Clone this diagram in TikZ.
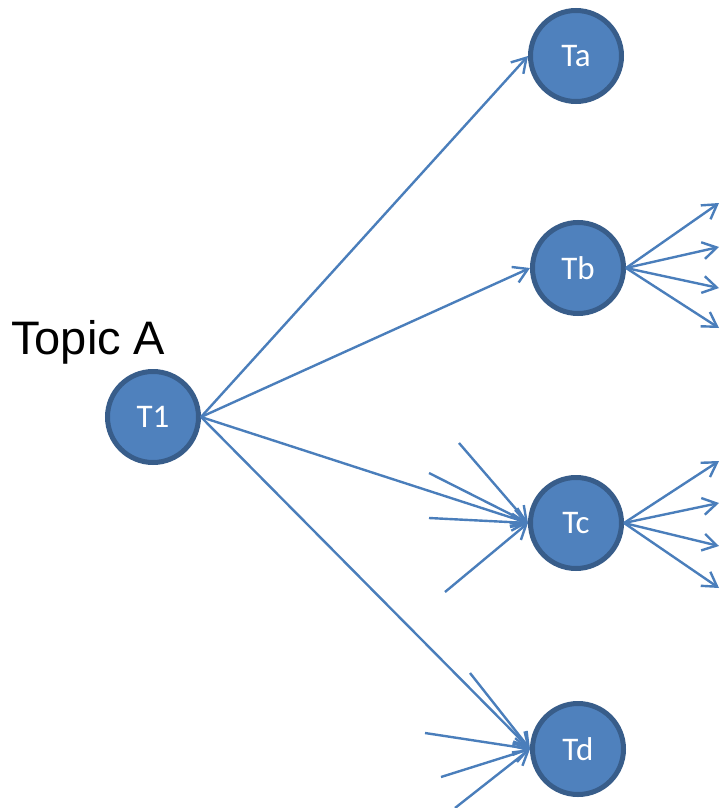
\documentclass[tikz,border=0pt]{standalone}
\usepackage{fontspec}
\setmainfont{Liberation Sans}
\newfontfamily\labelfont{Carlito}
\usetikzlibrary{arrows.meta}
\definecolor{nodefill}{HTML}{4F81BD}
\definecolor{nodeedge}{HTML}{385D8A}
\definecolor{linkblue}{HTML}{4A7EBB}
\begin{document}
\begin{tikzpicture}[x=1pt,y=-1pt,
  topic/.style={circle, fill=nodefill, draw=nodeedge, line width=5pt,
    minimum size=91pt, inner sep=0pt, text=white,
    font=\labelfont\fontsize{33}{40}\selectfont},
  link/.style={draw=linkblue, line width=2.4pt,
    -{Straight Barb[length=14pt,width=17pt]}}]
\useasboundingbox (0,0) rectangle (720,808);

% topic nodes
\node[topic] (T1) at (153,417) {T1};
\node[topic] (Ta) at (576,56) {Ta};
\node[topic] (Tb) at (578,268) {Tb};
\node[topic] (Tc) at (576,523) {Tc};
\node[topic] (Td) at (578,749) {Td};
\node[anchor=base west, inner sep=0pt, font=\fontsize{47}{56}\selectfont]
  (title) at (11,354) {Topic A};

% free ends of the loose connectors
\coordinate (b1) at (719,203);
\coordinate (b2) at (719,247);
\coordinate (b3) at (719,288);
\coordinate (b4) at (719,328);
\coordinate (c1) at (719,461);
\coordinate (c2) at (719,503);
\coordinate (c3) at (719,546);
\coordinate (c4) at (719,588);
\coordinate (ci1) at (459,443);
\coordinate (ci2) at (429,473);
\coordinate (ci3) at (429,518);
\coordinate (ci4) at (445,592);
\coordinate (di1) at (470,673);
\coordinate (di2) at (425,733);
\coordinate (di3) at (441,777);
\coordinate (di4) at (455,808);

% T1 fans out to the four subtopics
\foreach \t in {Ta,Tb,Tc,Td}
  \draw[link] (T1.east) -- (\t.west);

% outgoing links of Tb and Tc
\foreach \p in {b1,b2,b3,b4}
  \draw[link] (Tb.east) -- (\p);
\foreach \p in {c1,c2,c3,c4}
  \draw[link] (Tc.east) -- (\p);

% incoming links of Tc and Td
\foreach \p in {ci1,ci2,ci3,ci4}
  \draw[link] (\p) -- (Tc.west);
\foreach \p in {di1,di2,di3,di4}
  \draw[link] (\p) -- (Td.west);
\end{tikzpicture}
\end{document}
